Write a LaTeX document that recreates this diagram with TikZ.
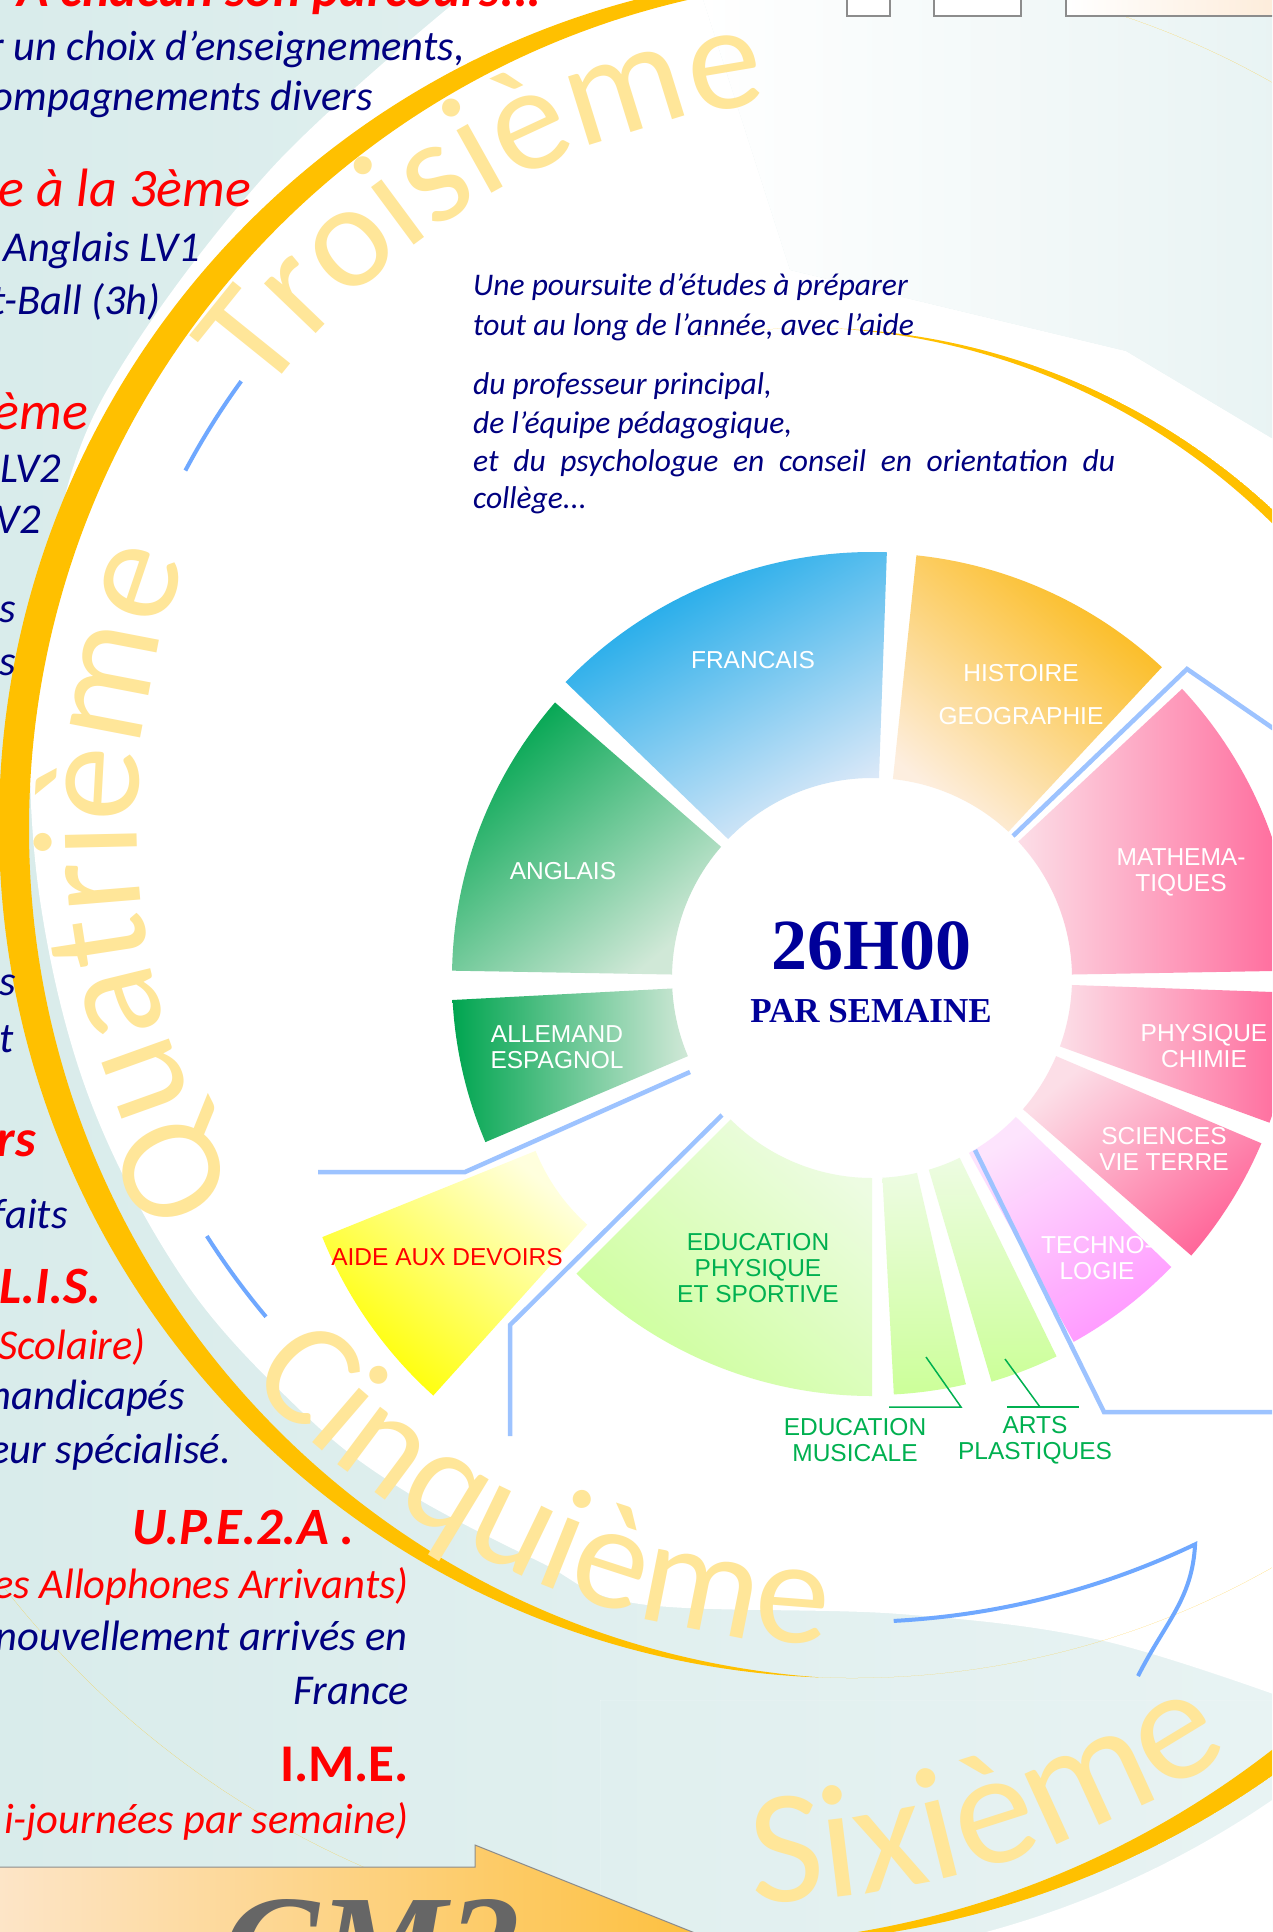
\documentclass[tikz,border=0pt]{standalone}
\usepackage{fontspec}
\setmainfont{Carlito}
\newfontfamily\tabfont{Liberation Sans}
\newfontfamily\hourfont{Liberation Serif}
\usetikzlibrary{calc,decorations.text}

\definecolor{bgleft}{HTML}{D9ECEB}
\definecolor{bgright}{HTML}{E8F3F3}
\definecolor{ringgold}{HTML}{FFC000}
\definecolor{wordyellow}{HTML}{FFE699}
\definecolor{ringblue}{HTML}{6FA8FF}
\definecolor{linkblue}{HTML}{9DC3FF}
\definecolor{navy}{HTML}{000080}
\definecolor{textgreen}{HTML}{00B050}
\definecolor{hourblue}{HTML}{000099}
\definecolor{cmgrey}{HTML}{666666}
\definecolor{boxgrey}{HTML}{8C8C8C}
\definecolor{bannerlight}{HTML}{FDE5C8}
\definecolor{bannerdark}{HTML}{FDBB2C}
\definecolor{boxpeach}{HTML}{FDEBD8}
\definecolor{francdark}{HTML}{0EA5E8}
\definecolor{franclight}{HTML}{DDE9F8}
\definecolor{histdark}{HTML}{FBB916}
\definecolor{histlight}{HTML}{FDEEDF}
\definecolor{mathdark}{HTML}{FF6699}
\definecolor{mathlight}{HTML}{FCDEE7}
\definecolor{technodark}{HTML}{FF99FF}
\definecolor{technolight}{HTML}{FDE4FD}
\definecolor{sportdark}{HTML}{CCFF99}
\definecolor{sportlight}{HTML}{EDFCE2}
\definecolor{aidedark}{HTML}{FFFF00}
\definecolor{aidelight}{HTML}{FFFFDD}
\definecolor{langdark}{HTML}{00A550}
\definecolor{langlight}{HTML}{D0E8D7}

\newcommand{\wordfont}{\fontsize{150}{150}\selectfont}
\newcommand{\sixfont}{\fontsize{162}{162}\selectfont}
% annular slice: centre, from, to, outer radius, shading
\newcommand{\subjslice}[5]{%
  \shade[#5] ($(#1)+(#2:200pt)$) arc[start angle=#2, end angle=#3, radius=200pt]
    -- ($(#1)+(#3:#4pt)$) arc[start angle=#3, end angle=#2, radius=#4pt] -- cycle;}

\tikzset{
  every node/.style={inner sep=0pt},
  bodytext/.style={anchor=base east, text=navy, font=\fontsize{42.5}{50}\selectfont\itshape},
  redtext/.style={bodytext, text=red},
  redbig/.style={anchor=base east, text=red, font=\fontsize{54}{60}\selectfont\itshape},
  redhead/.style={anchor=base east, text=red, font=\fontsize{52.5}{60}\selectfont\bfseries\itshape},
  pietext/.style={anchor=base west, text=navy, font=\fontsize{31.5}{38}\selectfont\itshape},
  sublabel/.style={text=white, align=center, font=\tabfont\fontsize{24.5}{26}\selectfont},
  greenlabel/.style={sublabel, text=textgreen},
  ringword/.style={decorate, decoration={text along path, text color=wordyellow, text={|\wordfont|#1}}},
  sixword/.style={decorate, decoration={text along path, text color=wordyellow, text={|\sixfont|#1}}},
  bluearc/.style={ringblue, line width=4pt},
  linkline/.style={linkblue, line width=4.5pt},
  leader/.style={textgreen, line width=1.5pt},
}

\begin{document}
\begin{tikzpicture}[x=1pt, y=-1pt]
  \useasboundingbox (0,0) rectangle (1272,1932);
  \clip (0,0) rectangle (1272,1932);

  \coordinate (ring) at (852,825);
  \coordinate (sixc) at (737,1015);
  \coordinate (pc) at (872,978);
  \coordinate (aidec) at (721,1076);
  \coordinate (hookend) at (1138,1676);

  % background
  \shade[left color=bgleft, right color=bgright] (0,0) rectangle (1272,1932);
  \fill[white] plot[smooth, tension=0.6] coordinates {(470,-10) (270,170) (106,392) (50,560) (30,700) (40,900) (90,1100) (184,1280) (300,1410) (400,1488) (540,1562) (640,1604) (900,1614) (1100,1640) (1290,1700)}
    -- (1290,449) -- (1126,351) -- (790,270) -- (700,-10) -- cycle;
  \shade[left color=white, right color=bgright] (700,-10) -- (790,270) -- (1126,351) -- (1290,449) -- (1290,-10) -- cycle;
  \begin{scope}
    \clip (600,1700) rectangle (1290,1950);
    \fill[white, even odd rule] (600,1700) rectangle (1290,1950) (sixc) circle[radius=950pt];
  \end{scope}

  % golden rings
  \begin{scope}
    \clip (700,-10) rectangle (1290,620);
    \clip (810,1008) circle[radius=680pt];
    \fill[ringgold, even odd rule] (810,1008) circle[radius=680pt] (794.1,1008) circle[radius=680.8pt];
  \end{scope}
  \begin{scope}
    \clip (ring) circle[radius=853pt];
    \fill[ringgold, even odd rule] (ring) circle[radius=853pt] (879.6,828.8) circle[radius=850.6pt];
  \end{scope}
  \begin{scope}
    \clip (0,1500) rectangle (1290,1950);
    \clip (sixc) circle[radius=930pt];
    \fill[ringgold, even odd rule] (sixc) circle[radius=930pt] (702,1015) circle[radius=930pt];
  \end{scope}

  % year words
  \path[ringword=Troisième] ($(ring)+(144:727pt)$) arc[start angle=144, end angle=80, radius=727pt];
  \path[ringword=Quatrième] ($(ring)+(211:715pt)$) arc[start angle=211, end angle=145, radius=715pt];
  \path[ringword=Cinquième] ($(ring)+(222.5:820pt)$) arc[start angle=222.5, end angle=285, radius=820pt];
  \path[sixword=Sixième] ($(sixc)+(271:888pt)$) arc[start angle=271, end angle=320, radius=888pt];

  \draw[bluearc] ($(ring)+(152:755pt)$) arc[start angle=152, end angle=144, radius=755pt];
  \draw[bluearc] ($(ring)+(220:765pt)$) arc[start angle=220, end angle=212.5, radius=765pt];
  \draw[bluearc] ($(ring)+(273:797pt)$) arc[start angle=273, end angle=295.5, radius=797pt]
    .. controls +(-3,55) and +(28,-55) .. (hookend);

  % subjects
  \subjslice{pc}{136}{88}{426}{top color=francdark, bottom color=franclight, shading angle=30}
  \subjslice{pc}{84}{47}{425}{top color=histdark, bottom color=histlight, shading angle=-40}
  \subjslice{pc}{43}{1}{424}{left color=mathlight, right color=mathdark}
  \subjslice{pc}{-2}{-20}{423}{left color=mathlight, right color=mathdark}
  \subjslice{pc}{-23}{-41}{423}{top color=mathlight, bottom color=mathdark, shading angle=40}
  \subjslice{pc}{-44}{-61}{416}{top color=technolight, bottom color=technodark, shading angle=30}
  \subjslice{pc}{-64}{-73.5}{421}{top color=sportlight, bottom color=sportdark}
  \subjslice{pc}{-77}{-87}{417}{top color=sportlight, bottom color=sportdark}
  \subjslice{pc}{-90}{-135}{418}{top color=sportlight, bottom color=sportdark, shading angle=-40}
  \subjslice{aidec}{-132}{-158}{430}{top color=aidelight, bottom color=aidedark, shading angle=-40}
  \subjslice{pc}{-157}{-177}{420}{left color=langdark, right color=langlight}
  \subjslice{pc}{179}{139}{420}{top color=langdark, bottom color=langlight, shading angle=40}

  \coordinate (la1) at (318,1172);
  \coordinate (la2) at (465,1172);
  \coordinate (la3) at (690,1072);
  \coordinate (lb1) at (510,1436);
  \coordinate (lb2) at (510,1325);
  \coordinate (lb3) at (722,1115);
  \coordinate (lc1) at (975,1150);
  \coordinate (lc2) at (1104,1412);
  \coordinate (lc3) at (1290,1412);
  \coordinate (ld1) at (1013,836);
  \coordinate (ld2) at (1187,669);
  \coordinate (ld3) at (1290,740);
  \draw[linkline] (la1) -- (la2) -- (la3);
  \draw[linkline] (lb1) -- (lb2) -- (lb3);
  \draw[linkline] (lc1) -- (lc2) -- (lc3);
  \draw[linkline] (ld1) -- (ld2) -- (ld3);

  \node[sublabel] (francais) at (753,660) {FRANCAIS};
  \node[sublabel] (histgeo) at (1021,695) {HISTOIRE\\[17pt]GEOGRAPHIE};
  \node[sublabel] (maths) at (1181,872) {MATHEMA-\\TIQUES};
  \node[sublabel] (physchim) at (1204,1046) {PHYSIQUE\\CHIMIE};
  \node[sublabel] (svt) at (1164,1149) {SCIENCES\\VIE TERRE};
  \node[sublabel] (techno) at (1097,1258) {TECHNO-\\LOGIE};
  \node[sublabel] (anglais) at (563,871) {ANGLAIS};
  \node[sublabel] (langues) at (557,1047) {ALLEMAND\\ESPAGNOL};
  \node[sublabel, text=red] (aide) at (447,1257) {AIDE AUX DEVOIRS};
  \node[greenlabel] (eps) at (758,1268) {EDUCATION\\PHYSIQUE\\ET SPORTIVE};
  \node[greenlabel] (musique) at (855,1440) {EDUCATION\\MUSICALE};
  \node[greenlabel] (arts) at (1035,1440) {ARTS\\PLASTIQUES};

  \coordinate (mus1) at (926,1357);
  \coordinate (mus2) at (961,1407);
  \coordinate (mus3) at (889,1407);
  \coordinate (art1) at (1005,1359);
  \coordinate (art2) at (1040,1407);
  \coordinate (art3) at (1007,1407);
  \coordinate (art4) at (1079,1407);
  \draw[leader] (mus1) -- (mus2) -- (mus3);
  \draw[leader] (art1) -- (art2);
  \draw[leader] (art3) -- (art4);

  \node[anchor=base, text=hourblue, font=\hourfont\bfseries\fontsize{72}{72}\selectfont] (hours) at (871,969) {26H00};
  \node[anchor=base, text=hourblue, font=\hourfont\bfseries\fontsize{35}{35}\selectfont] (perweek) at (871,1022) {PAR SEMAINE};

  % text above the wheel
  \node[pietext] (p1) at (473,295) {Une poursuite d’études à préparer};
  \node[pietext] (p2) at (473,335) {tout au long de l’année, avec l’aide};
  \node[pietext] (p3) at (473,394) {du professeur principal,};
  \node[pietext] (p4) at (473,433) {de l’équipe pédagogique,};
  \node[pietext] (p5) at (473,471) {\makebox[642pt][s]{et du psychologue en conseil en orientation du}};
  \node[pietext] (p6) at (473,508) {collège...};

  % left column
  \node[redhead, font=\fontsize{52}{60}\selectfont\bfseries\itshape] (title) at (542,7) {A chacun son parcours...};
  \node[bodytext] (l1) at (465,61) {r un choix d’enseignements,};
  \node[bodytext] (l2) at (373,111) {ompagnements divers};
  \node[redbig] (h1) at (251,206) {e à la 3ème};
  \node[bodytext] (l3) at (200,261) {Anglais LV1};
  \node[bodytext] (l4) at (161,314) {t-Ball (3h)};
  \node[redbig] (h2) at (88,429) {ème};
  \node[bodytext] (l5) at (61,482) {LV2};
  \node[bodytext] (l6) at (41,533) {V2};
  \node[bodytext] (l7) at (16,622) {s};
  \node[bodytext] (l8) at (16,675) {s};
  \node[bodytext] (l9) at (16,995) {s};
  \node[bodytext] (l10) at (14,1052) {t};
  \node[redhead] (h3) at (36,1156) {rs};
  \node[bodytext] (l11) at (68,1228) {faits};
  \node[redhead] (h4) at (102,1303) {L.I.S.};
  \node[redtext] (r1) at (146,1359) {Scolaire)};
  \node[bodytext] (l12) at (185,1409) {handicapés};
  \node[bodytext] (l13) at (231,1463) {eur spécialisé.};
  \node[redhead] (h5) at (355,1544) {U.P.E.2.A .};
  \node[redtext] (r2) at (409,1598) {es Allophones Arrivants)};
  \node[bodytext] (l14) at (408,1650) {nouvellement arrivés en};
  \node[bodytext] (l15) at (409,1704) {France};
  \node[redhead, font=\fontsize{53}{60}\selectfont\bfseries] (h6) at (409,1781) {I.M.E.};
  \node[redtext] (r3) at (409,1833) {i-journées par semaine)};

  % CM2 banner
  \shadedraw[left color=bannerlight, right color=bannerdark, draw=boxgrey, line width=1pt]
    (-5,1867) -- (475,1867) -- (475,1845) -- (800,1975) -- (-5,1975) -- cycle;
  \node[anchor=base west, text=cmgrey, font=\hourfont\bfseries\itshape\fontsize{145}{145}\selectfont] (cm2) at (222,1995) {CM2};

  % boxes at the top
  \draw[boxgrey, line width=1.5pt, fill=white] (847,-10) rectangle (890,16);
  \draw[boxgrey, line width=1.5pt, fill=white] (934,-10) rectangle (1021,16);
  \shadedraw[left color=white, right color=boxpeach, draw=boxgrey, line width=1.5pt] (1066,-10) rectangle (1290,16);
\end{tikzpicture}
\end{document}
